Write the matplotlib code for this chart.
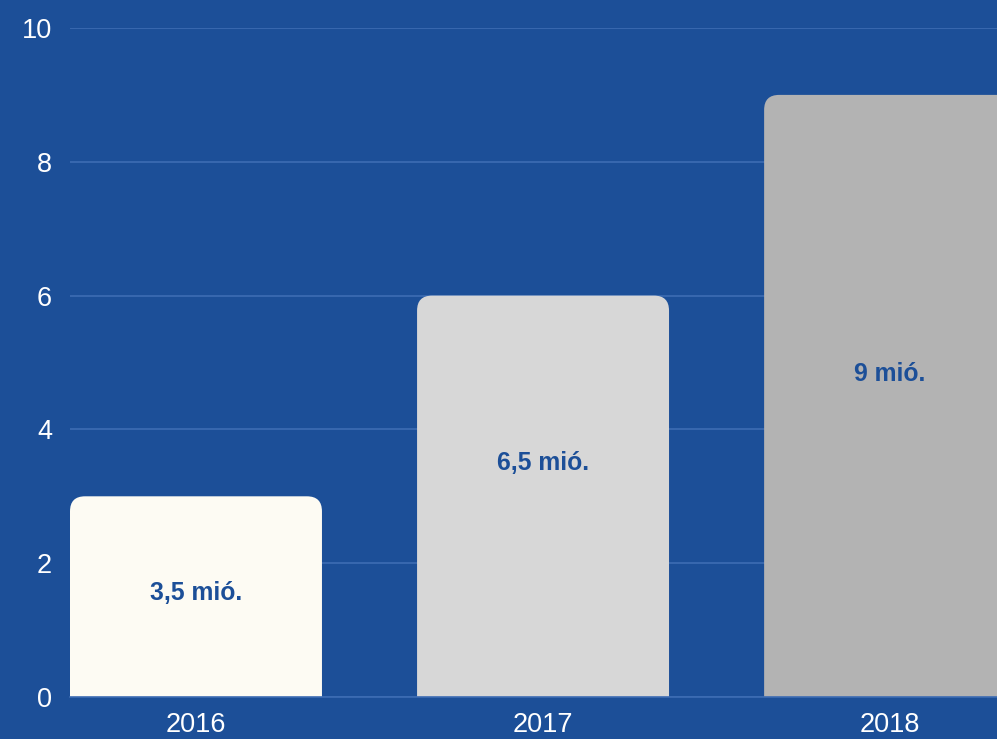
import matplotlib.pyplot as plt
from matplotlib.patches import FancyBboxPatch

# données
annees = ['2016', '2017', '2018']
hauteurs = [3, 6, 9]
etiquettes = ['3,5 mió.', '6,5 mió.', '9 mió.']
couleurs = ['#fdfbf3', '#d7d7d7', '#b3b3b3']
label_y = [1.55, 3.5, 4.83]

fond = '#1c4f98'
grille = '#3d6cb3'

plt.rcParams['font.family'] = ['Liberation Sans', 'DejaVu Sans']

fig = plt.figure(figsize=(9.97, 7.39), dpi=100)
fig.patch.set_facecolor(fond)
ax = fig.add_axes([70 / 997, 42 / 739, 1 - 70 / 997, 669 / 739])
ax.set_facecolor(fond)

x = list(range(len(annees)))
bars = ax.bar(x, hauteurs, width=0.726, color=couleurs, zorder=2)

# coins arrondis en haut seulement (le bas passe sous l'axe)
rx = 15 / 347
ry = 15 / 66.9
for b, c in zip(bars, couleurs):
   b.set_visible(False)
   p = FancyBboxPatch((b.get_x(), -1), b.get_width(), b.get_height() + 1,
                      boxstyle=f"round,pad=0,rounding_size={rx}",
                      mutation_aspect=ry / rx, fc=c, ec='none', zorder=2)
   ax.add_patch(p)

for i, t in enumerate(etiquettes):
   ax.text(x[i], label_y[i], t, ha='center', va='center', color=fond,
           fontsize=17.8, fontweight='bold', zorder=3)

ax.set_xlim(-0.363, 2.308)
ax.set_ylim(0, 10)
ax.set_yticks([0, 2, 4, 6, 8, 10])
ax.set_xticks(x)
ax.set_xticklabels(annees)
ax.yaxis.grid(True, color=grille, linewidth=1.2, zorder=0)
ax.set_axisbelow(True)
for s in ['top', 'right', 'left']:
   ax.spines[s].set_visible(False)
ax.spines['bottom'].set_color(grille)
ax.spines['bottom'].set_linewidth(1.2)
ax.tick_params(axis='y', length=0, pad=13, labelsize=19.5, labelcolor='white')
ax.tick_params(axis='x', length=0, pad=11, labelsize=19.5, labelcolor='white')

fig.savefig('out.png', dpi=100, facecolor=fond)
